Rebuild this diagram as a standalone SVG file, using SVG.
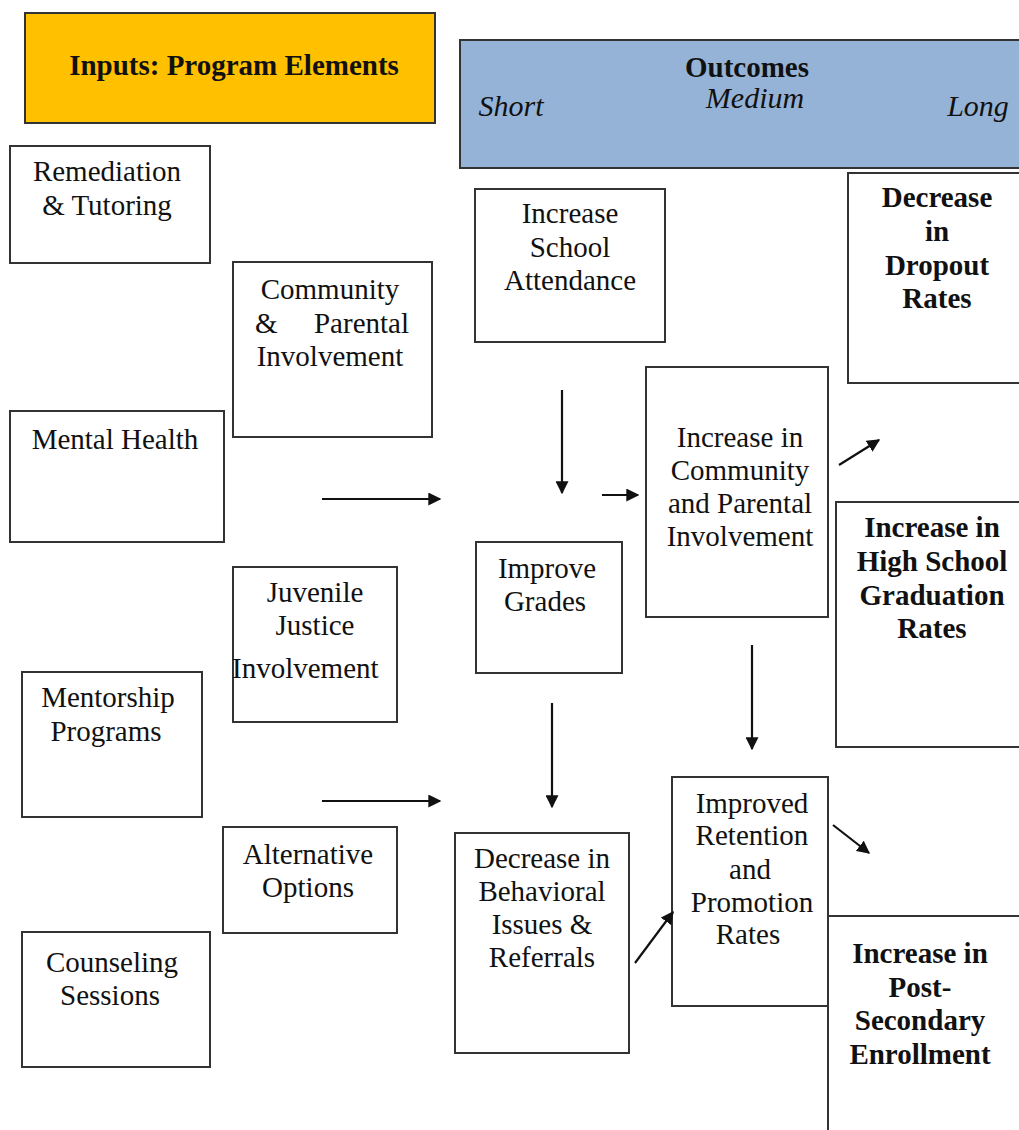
<svg xmlns="http://www.w3.org/2000/svg" width="1019" height="1130" viewBox="0 0 1019 1130">
<style>
.box{fill:#fff;stroke:#333;stroke-width:2}
.t{font-family:"Liberation Serif","Times New Roman",serif;font-size:29px;fill:#111}
.b{font-weight:bold}
.i{font-style:italic;font-size:30px}
.c{stroke:#111;stroke-width:2.2;fill:none}
</style>
<defs>
<marker id="ah" viewBox="0 0 10 10" refX="9" refY="5" markerWidth="13" markerHeight="13" markerUnits="userSpaceOnUse" orient="auto">
<path d="M0,0 L10,5 L0,10 z" fill="#111"/>
</marker>
</defs>
<rect width="1019" height="1130" fill="#fff"/>

<g id="inputs-header">
<rect x="25" y="13" width="410" height="110" fill="#FFC000" stroke="#333" stroke-width="2"/>
<text class="t b" x="234" y="75" text-anchor="middle">Inputs: Program Elements</text>
</g>
<g id="outcomes-header" text-anchor="middle">
<rect x="460" y="40" width="570" height="128" fill="#95B3D7" stroke="#333" stroke-width="2"/>
<text class="t b" x="747" y="77">Outcomes</text>
<text class="t i" x="511" y="116">Short</text>
<text class="t i" x="755" y="108">Medium</text>
<text class="t i" x="978" y="116">Long</text>
</g>

<g id="remediation" text-anchor="middle">
<rect class="box" x="10" y="146" width="200" height="117"/>
<text class="t" x="107" y="181">Remediation</text>
<text class="t" x="107" y="215">&amp; Tutoring</text>
</g>
<g id="community-input">
<rect class="box" x="233" y="262" width="199" height="175"/>
<text class="t" x="330" y="299" text-anchor="middle">Community</text>
<text class="t" x="255" y="333" text-anchor="start">&amp;</text>
<text class="t" x="409" y="333" text-anchor="end">Parental</text>
<text class="t" x="330" y="366" text-anchor="middle">Involvement</text>
</g>
<g id="mental-health" text-anchor="middle">
<rect class="box" x="10" y="411" width="214" height="131"/>
<text class="t" x="115" y="449">Mental Health</text>
</g>
<g id="juvenile">
<rect class="box" x="233" y="567" width="164" height="155"/>
<text class="t" x="315" y="602" text-anchor="middle">Juvenile</text>
<text class="t" x="315" y="635" text-anchor="middle">Justice</text>
<text class="t" x="232" y="678" text-anchor="start">Involvement</text>
</g>
<g id="mentorship" text-anchor="middle">
<rect class="box" x="22" y="672" width="180" height="145"/>
<text class="t" x="108" y="707">Mentorship</text>
<text class="t" x="106" y="741">Programs</text>
</g>
<g id="alternative" text-anchor="middle">
<rect class="box" x="223" y="827" width="174" height="106"/>
<text class="t" x="308" y="864">Alternative</text>
<text class="t" x="308" y="897">Options</text>
</g>
<g id="counseling" text-anchor="middle">
<rect class="box" x="22" y="932" width="188" height="135"/>
<text class="t" x="112" y="972">Counseling</text>
<text class="t" x="110" y="1005">Sessions</text>
</g>

<g id="attendance" text-anchor="middle">
<rect class="box" x="475" y="189" width="190" height="153"/>
<text class="t" x="570" y="223">Increase</text>
<text class="t" x="570" y="257">School</text>
<text class="t" x="570" y="290">Attendance</text>
</g>
<g id="grades" text-anchor="middle">
<rect class="box" x="476" y="542" width="146" height="131"/>
<text class="t" x="547" y="578">Improve</text>
<text class="t" x="545" y="611">Grades</text>
</g>
<g id="behavioral" text-anchor="middle">
<rect class="box" x="455" y="833" width="174" height="220"/>
<text class="t" x="542" y="868">Decrease in</text>
<text class="t" x="542" y="901">Behavioral</text>
<text class="t" x="542" y="934">Issues &amp;</text>
<text class="t" x="542" y="967">Referrals</text>
</g>
<g id="community-outcome" text-anchor="middle">
<rect class="box" x="646" y="367" width="182" height="250"/>
<text class="t" x="740" y="447">Increase in</text>
<text class="t" x="740" y="480">Community</text>
<text class="t" x="740" y="513">and Parental</text>
<text class="t" x="740" y="546">Involvement</text>
</g>
<g id="retention" text-anchor="middle">
<rect class="box" x="672" y="777" width="156" height="229"/>
<text class="t" x="752" y="813">Improved</text>
<text class="t" x="752" y="845">Retention</text>
<text class="t" x="750" y="879">and</text>
<text class="t" x="752" y="912">Promotion</text>
<text class="t" x="748" y="944">Rates</text>
</g>

<g id="dropout" text-anchor="middle">
<rect class="box" x="848" y="173" width="190" height="210"/>
<text class="t b" x="937" y="207">Decrease</text>
<text class="t b" x="937" y="241">in</text>
<text class="t b" x="937" y="275">Dropout</text>
<text class="t b" x="937" y="308">Rates</text>
</g>
<g id="graduation" text-anchor="middle">
<rect class="box" x="836" y="502" width="200" height="245"/>
<text class="t b" x="932" y="537">Increase in</text>
<text class="t b" x="932" y="571">High School</text>
<text class="t b" x="932" y="605">Graduation</text>
<text class="t b" x="932" y="638">Rates</text>
</g>
<g id="postsecondary" text-anchor="middle">
<rect class="box" x="828" y="916" width="210" height="230"/>
<text class="t b" x="920" y="963">Increase in</text>
<text class="t b" x="920" y="997">Post-</text>
<text class="t b" x="920" y="1030">Secondary</text>
<text class="t b" x="920" y="1064">Enrollment</text>
</g>

<g id="connectors">
<line class="c" x1="322" y1="499" x2="440" y2="499" marker-end="url(#ah)"/>
<line class="c" x1="322" y1="801" x2="440" y2="801" marker-end="url(#ah)"/>
<line class="c" x1="562" y1="390" x2="562" y2="493" marker-end="url(#ah)"/>
<line class="c" x1="602" y1="495" x2="638" y2="495" marker-end="url(#ah)"/>
<line class="c" x1="552" y1="703" x2="552" y2="807" marker-end="url(#ah)"/>
<line class="c" x1="752" y1="645" x2="752" y2="749" marker-end="url(#ah)"/>
<line class="c" x1="839" y1="465" x2="879" y2="440" marker-end="url(#ah)"/>
<line class="c" x1="635" y1="963" x2="673" y2="912" marker-end="url(#ah)"/>
<line class="c" x1="833" y1="825" x2="869" y2="853" marker-end="url(#ah)"/>
</g>
</svg>
